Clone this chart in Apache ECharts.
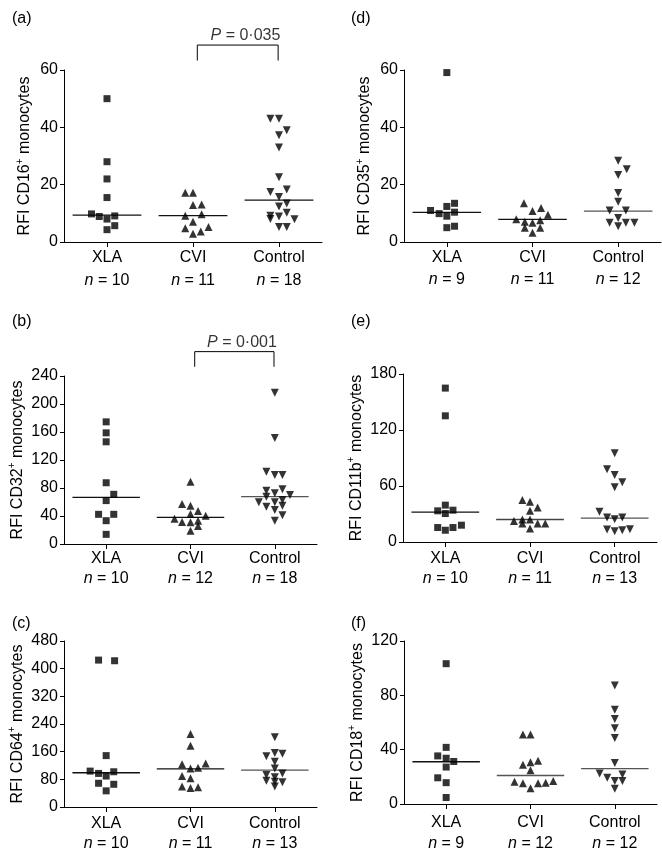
<!DOCTYPE html>
<html>
<head>
<meta charset="utf-8">
<script src="https://cdn.jsdelivr.net/npm/echarts@6/dist/echarts.min.js"></script>
<style>
html,body{margin:0;padding:0;background:#fff;}
#c{width:662px;height:854px;}
</style>
</head>
<body>
<div id="c"></div>
<script>
// ---- Data ----
const groups = ['XLA', 'CVI', 'Control'];
const markers = ['CD16', 'CD32', 'CD64', 'CD35', 'CD11b', 'CD18'];
const panelLetters = ['(a)', '(b)', '(c)', '(d)', '(e)', '(f)'];

// n per group, per panel
const nA = [10, 11, 18];
const nB = [10, 12, 18];
const nC = [10, 11, 13];
const nD = [9, 11, 12];
const nE = [10, 11, 13];
const nF = [9, 12, 12];

// y-axis ranges [max, interval]
const yMaxA = 60,  yIntA = 20;
const yMaxB = 240, yIntB = 40;
const yMaxC = 480, yIntC = 80;
const yMaxD = 60,  yIntD = 20;
const yMaxE = 180, yIntE = 60;
const yMaxF = 120, yIntF = 40;

// Panel (a) CD16
const aXLA   = [50, 28, 22, 15.5, 9.8, 8.9, 8.0, 9.1, 5.7, 4.3];
const aXLAdx = [0, 0, 0, 0, -0.18, -0.09, 0, 0.09, 0.09, 0];
const aCVI   = [17.2, 17.2, 13.1, 12.9, 9.7, 9.2, 7.1, 5.2, 4.8, 3.7, 2.9];
const aCVIdx = [-0.09, 0, 0.1, 0, 0.1, -0.09, 0, 0.18, -0.09, 0.09, 0];
const aCtl   = [43, 43, 39, 37.2, 33, 22.6, 17.4, 18.3, 15.7, 13.4, 12.4, 10.2, 9.2, 8.9, 8.0, 7.9, 5.2, 5.2];
const aCtldx = [-0.1, 0, 0.09, 0, 0, 0, -0.1, 0.09, 0, 0.09, 0, 0.09, -0.1, 0, -0.1, 0.18, 0, 0.09];
const aMed   = [9.4, 9.2, 14.6];

// Panel (b) CD32
const bXLA   = [174.5, 158.8, 146, 87.5, 71, 62, 42.4, 42.4, 33.3, 13.8];
const bXLAdx = [0, 0, 0, 0, 0.09, 0, -0.09, 0.09, 0, 0];
const bCVI   = [89, 57.1, 54.8, 47.1, 42.9, 40.5, 36.2, 31.4, 31, 33.3, 25.7, 19];
const bCVIdx = [0, -0.1, 0, 0.09, 0, 0.18, -0.19, -0.1, 0, 0.09, 0.09, 0];
const bCtl   = [216, 151.6, 103.3, 98.6, 98.6, 76.2, 78.1, 72.4, 67.6, 70, 59.5, 59.5, 62.9, 53.3, 54.8, 48.6, 41, 33.3];
const bCtldx = [0, 0, -0.1, 0, 0.09, -0.1, 0.09, 0, -0.1, 0.18, -0.19, 0, 0.09, -0.1, 0.09, 0, 0.09, 0];
const bMed   = [66.7, 38.1, 67.6];

// Panel (c) CD64
const cXLA   = [424.8, 422.9, 148.6, 103.8, 97.1, 89.5, 101.9, 68.6, 65.7, 46.7];
const cXLAdx = [-0.09, 0.1, 0, -0.19, -0.09, 0, 0.09, -0.09, 0.09, 0];
const cCVI   = [211, 177, 123.8, 125.7, 111.4, 113.3, 89.5, 82.9, 59, 55.2, 57.1];
const cCVIdx = [0, 0, -0.1, 0.18, 0, 0.09, -0.1, 0, -0.1, 0, 0.09];
const cCtl   = [202, 146.7, 156.2, 154.3, 130.5, 111.4, 92.4, 97.1, 85.7, 76.2, 73.3, 71.4, 59];
const cCtldx = [0, -0.1, 0, 0.09, 0, 0, -0.1, 0.09, 0, -0.1, 0, 0.09, 0];
const cMed   = [99, 110.5, 106.7];

// Panel (d) CD35
const dXLA   = [59.1, 11.0, 9.9, 12.4, 13.5, 9.0, 10.4, 5.0, 5.5];
const dXLAdx = [0, -0.19, -0.09, 0, 0.09, 0, 0.09, 0, 0.09];
const dCVI   = [13.5, 11.9, 10.8, 9.5, 7.9, 7.1, 6.7, 7.6, 5.0, 5.0, 3.2];
const dCVIdx = [-0.1, 0.1, 0, 0.18, -0.19, -0.09, 0, 0.09, -0.09, 0.09, 0];
const dCtl   = [28.3, 25.4, 23.4, 17.1, 14.0, 11.0, 11.0, 8.4, 6.7, 5.5, 6.7, 6.7];
const dCtldx = [0, 0.1, 0, 0, 0, -0.1, 0.09, 0, -0.1, 0, 0.09, 0.19];
const dMed   = [10.3, 7.9, 10.8];

// Panel (e) CD11b
const eXLA   = [164.9, 135.2, 39.5, 33.4, 30.5, 34.1, 15.5, 12.6, 15.5, 18.0];
const eXLAdx = [0, 0, 0, -0.09, 0, 0.09, -0.09, 0, 0.09, 0.19];
const eCVI   = [44.9, 43.1, 37, 33.4, 22.6, 24.1, 24.1, 19.8, 19.8, 19.8, 14.4];
const eCVIdx = [-0.09, 0, 0.09, 0, -0.19, -0.09, 0, -0.09, 0.09, 0.18, 0];
const eCtl   = [95.2, 78, 71.9, 64, 58.6, 32.3, 26.2, 24.4, 26.2, 13.3, 11.5, 12.6, 13.7];
const eCtldx = [0, -0.09, 0, 0.09, 0, -0.18, -0.09, 0, 0.09, -0.09, 0, 0.09, 0.18];
const eMed   = [32, 24.1, 25.5];

// Panel (f) CD18
const fXLA   = [103.3, 41.7, 35.4, 33.7, 31.3, 27.2, 19.3, 15.7, 4.8];
const fXLAdx = [0, 0, -0.1, 0, 0.09, 0, -0.1, 0, 0];
const fCVI   = [51.1, 51.1, 28.9, 30.8, 31.8, 24.8, 16.4, 15.2, 11.6, 15.2, 15.7, 16.9];
const fCVIdx = [-0.09, 0, -0.09, 0, 0.09, 0, -0.19, -0.09, 0, 0.09, 0.18, 0.27];
const fCtl   = [87.2, 69.3, 62.6, 55.7, 48.5, 30.1, 22.4, 19.3, 16.9, 21.7, 16.9, 11.3];
const fCtldx = [0, 0, 0, 0, 0, 0, -0.18, -0.09, 0, 0.09, 0.09, 0];
const fMed   = [31.1, 21, 26];

// Significance annotations
const sigA = { panel: 0, from: 1, to: 2, p: '0·035' };
const sigB = { panel: 1, from: 1, to: 2, p: '0·001' };

// ---- Build chart ----
const panels = [
  { n: nA, yMax: yMaxA, yInt: yIntA, vals: [aXLA, aCVI, aCtl], dx: [aXLAdx, aCVIdx, aCtldx], med: aMed },
  { n: nB, yMax: yMaxB, yInt: yIntB, vals: [bXLA, bCVI, bCtl], dx: [bXLAdx, bCVIdx, bCtldx], med: bMed },
  { n: nC, yMax: yMaxC, yInt: yIntC, vals: [cXLA, cCVI, cCtl], dx: [cXLAdx, cCVIdx, cCtldx], med: cMed },
  { n: nD, yMax: yMaxD, yInt: yIntD, vals: [dXLA, dCVI, dCtl], dx: [dXLAdx, dCVIdx, dCtldx], med: dMed },
  { n: nE, yMax: yMaxE, yInt: yIntE, vals: [eXLA, eCVI, eCtl], dx: [eXLAdx, eCVIdx, eCtldx], med: eMed },
  { n: nF, yMax: yMaxF, yInt: yIntF, vals: [fXLA, fCVI, fCtl], dx: [fXLAdx, fCVIdx, fCtldx], med: fMed }
];

// layout (pixels)
const gridBoxes = [
  { left: 64,  top: 70,  width: 258, height: 172, lh: 23, m: 4 },
  { left: 64,  top: 376, width: 253, height: 168, lh: 20, m: 5 },
  { left: 64,  top: 641, width: 253, height: 168, lh: 20, m: 7 },
  { left: 404, top: 70,  width: 257, height: 172, lh: 22, m: 5 },
  { left: 403, top: 374, width: 254, height: 168, lh: 20, m: 7 },
  { left: 404, top: 641, width: 253, height: 167, lh: 21, m: 8 }
];
const titlePos = [
  { left: 7, top: 6 }, { left: 7, top: 309 }, { left: 7, top: 611 },
  { left: 346, top: 6 }, { left: 346, top: 309 }, { left: 346, top: 611 }
];
const medColors = [
  ['#111', '#111', '#111'],
  ['#111', '#111', '#555'],
  ['#111', '#111', '#555'],
  ['#111', '#111', '#555'],
  ['#111', '#444', '#555'],
  ['#111', '#555', '#555']
];
const symbols = [
  { symbol: 'rect', size: 7, rot: 0 },
  { symbol: 'triangle', size: 8, rot: 0 },
  { symbol: 'triangle', size: 8, rot: 180 }
];
const FONT = '"Liberation Sans", Arial, Helvetica, sans-serif';

const option = {
  animation: false,
  backgroundColor: '#fff',
  textStyle: { fontFamily: FONT, color: '#000' },
  title: [], grid: [], xAxis: [], yAxis: [], series: []
};

panels.forEach((p, k) => {
  const g = gridBoxes[k];
  option.title.push({
    text: panelLetters[k], left: titlePos[k].left, top: titlePos[k].top,
    textStyle: { fontFamily: FONT, fontSize: 16, fontWeight: 'normal', color: '#000' }
  });
  option.grid.push({ left: g.left, top: g.top, width: g.width, height: g.height });
  option.xAxis.push({
    type: 'category', gridIndex: k,
    data: groups.map((c, i) => c + '\n{i|n} = ' + p.n[i]),
    axisLine: { show: true, lineStyle: { color: '#000', width: 1 } },
    axisTick: { show: true, alignWithLabel: true, length: 5, lineStyle: { color: '#000' } },
    axisLabel: {
      interval: 0, margin: g.m, fontSize: 16, lineHeight: g.lh, color: '#000', fontFamily: FONT,
      rich: { i: { fontStyle: 'italic', fontSize: 16, lineHeight: g.lh, fontFamily: FONT, color: '#000' } }
    },
    splitLine: { show: false }
  });
  option.xAxis.push({ type: 'value', gridIndex: k, min: 0, max: 3, show: false });
  option.yAxis.push({
    type: 'value', gridIndex: k, min: 0, max: p.yMax, interval: p.yInt,
    name: 'RFI ' + markers[k] + '{sup|+} monocytes',
    nameLocation: 'middle', nameGap: 29, nameRotate: 90,
    nameTextStyle: {
      fontSize: 16, color: '#000', fontFamily: FONT, lineHeight: 20,
      rich: { sup: { fontSize: 10, verticalAlign: 'top', lineHeight: 20, fontFamily: FONT, color: '#000' } }
    },
    axisLine: { show: true, lineStyle: { color: '#000', width: 1 } },
    axisTick: { show: true, length: 4, lineStyle: { color: '#000' } },
    axisLabel: { fontSize: 16, margin: 6, color: '#000', fontFamily: FONT },
    splitLine: { show: false }
  });

  p.vals.forEach((vals, gi) => {
    const s = symbols[gi];
    option.series.push({
      type: 'scatter', xAxisIndex: 2 * k + 1, yAxisIndex: k,
      symbol: s.symbol, symbolSize: s.size, symbolRotate: s.rot,
      itemStyle: { color: '#000' },
      data: vals.map((v, i) => [gi + 0.5 + p.dx[gi][i], v]),
      z: 3
    });
    option.series.push({
      type: 'line', xAxisIndex: 2 * k + 1, yAxisIndex: k,
      symbol: 'none', silent: true,
      lineStyle: { color: medColors[k][gi], width: 1.3 },
      data: [[gi + 0.5 - 0.4, p.med[gi]], [gi + 0.5 + 0.4, p.med[gi]]],
      z: 2
    });
  });
});

// significance brackets
[sigA, sigB].forEach(sg => {
  const k = sg.panel;
  const ym = panels[k].yMax;
  const base = ym * 1.055, top = ym * 1.145, txt = ym * 1.2;
  const x1 = sg.from + 0.55, x2 = sg.to + 0.49;
  option.series.push({
    type: 'line', xAxisIndex: 2 * k + 1, yAxisIndex: k, clip: false,
    symbol: 'none', silent: true,
    lineStyle: { color: '#000', width: 1 },
    data: [[x1, base], [x1, top], [x2, top], [x2, base]]
  });
  option.series.push({
    type: 'scatter', xAxisIndex: 2 * k + 1, yAxisIndex: k, clip: false,
    symbolSize: 0, silent: true,
    data: [[(x1 + x2) / 2 + 0.09, txt]],
    label: {
      show: true, position: 'inside', formatter: '{i|P} = ' + sg.p,
      fontSize: 16, color: '#000', fontFamily: FONT,
      rich: { i: { fontStyle: 'italic', fontSize: 16, color: '#000', fontFamily: FONT } }
    }
  });
});

const chart = echarts.init(document.getElementById('c'), null, { renderer: 'canvas' });
chart.setOption(option);
</script>
</body>
</html>
